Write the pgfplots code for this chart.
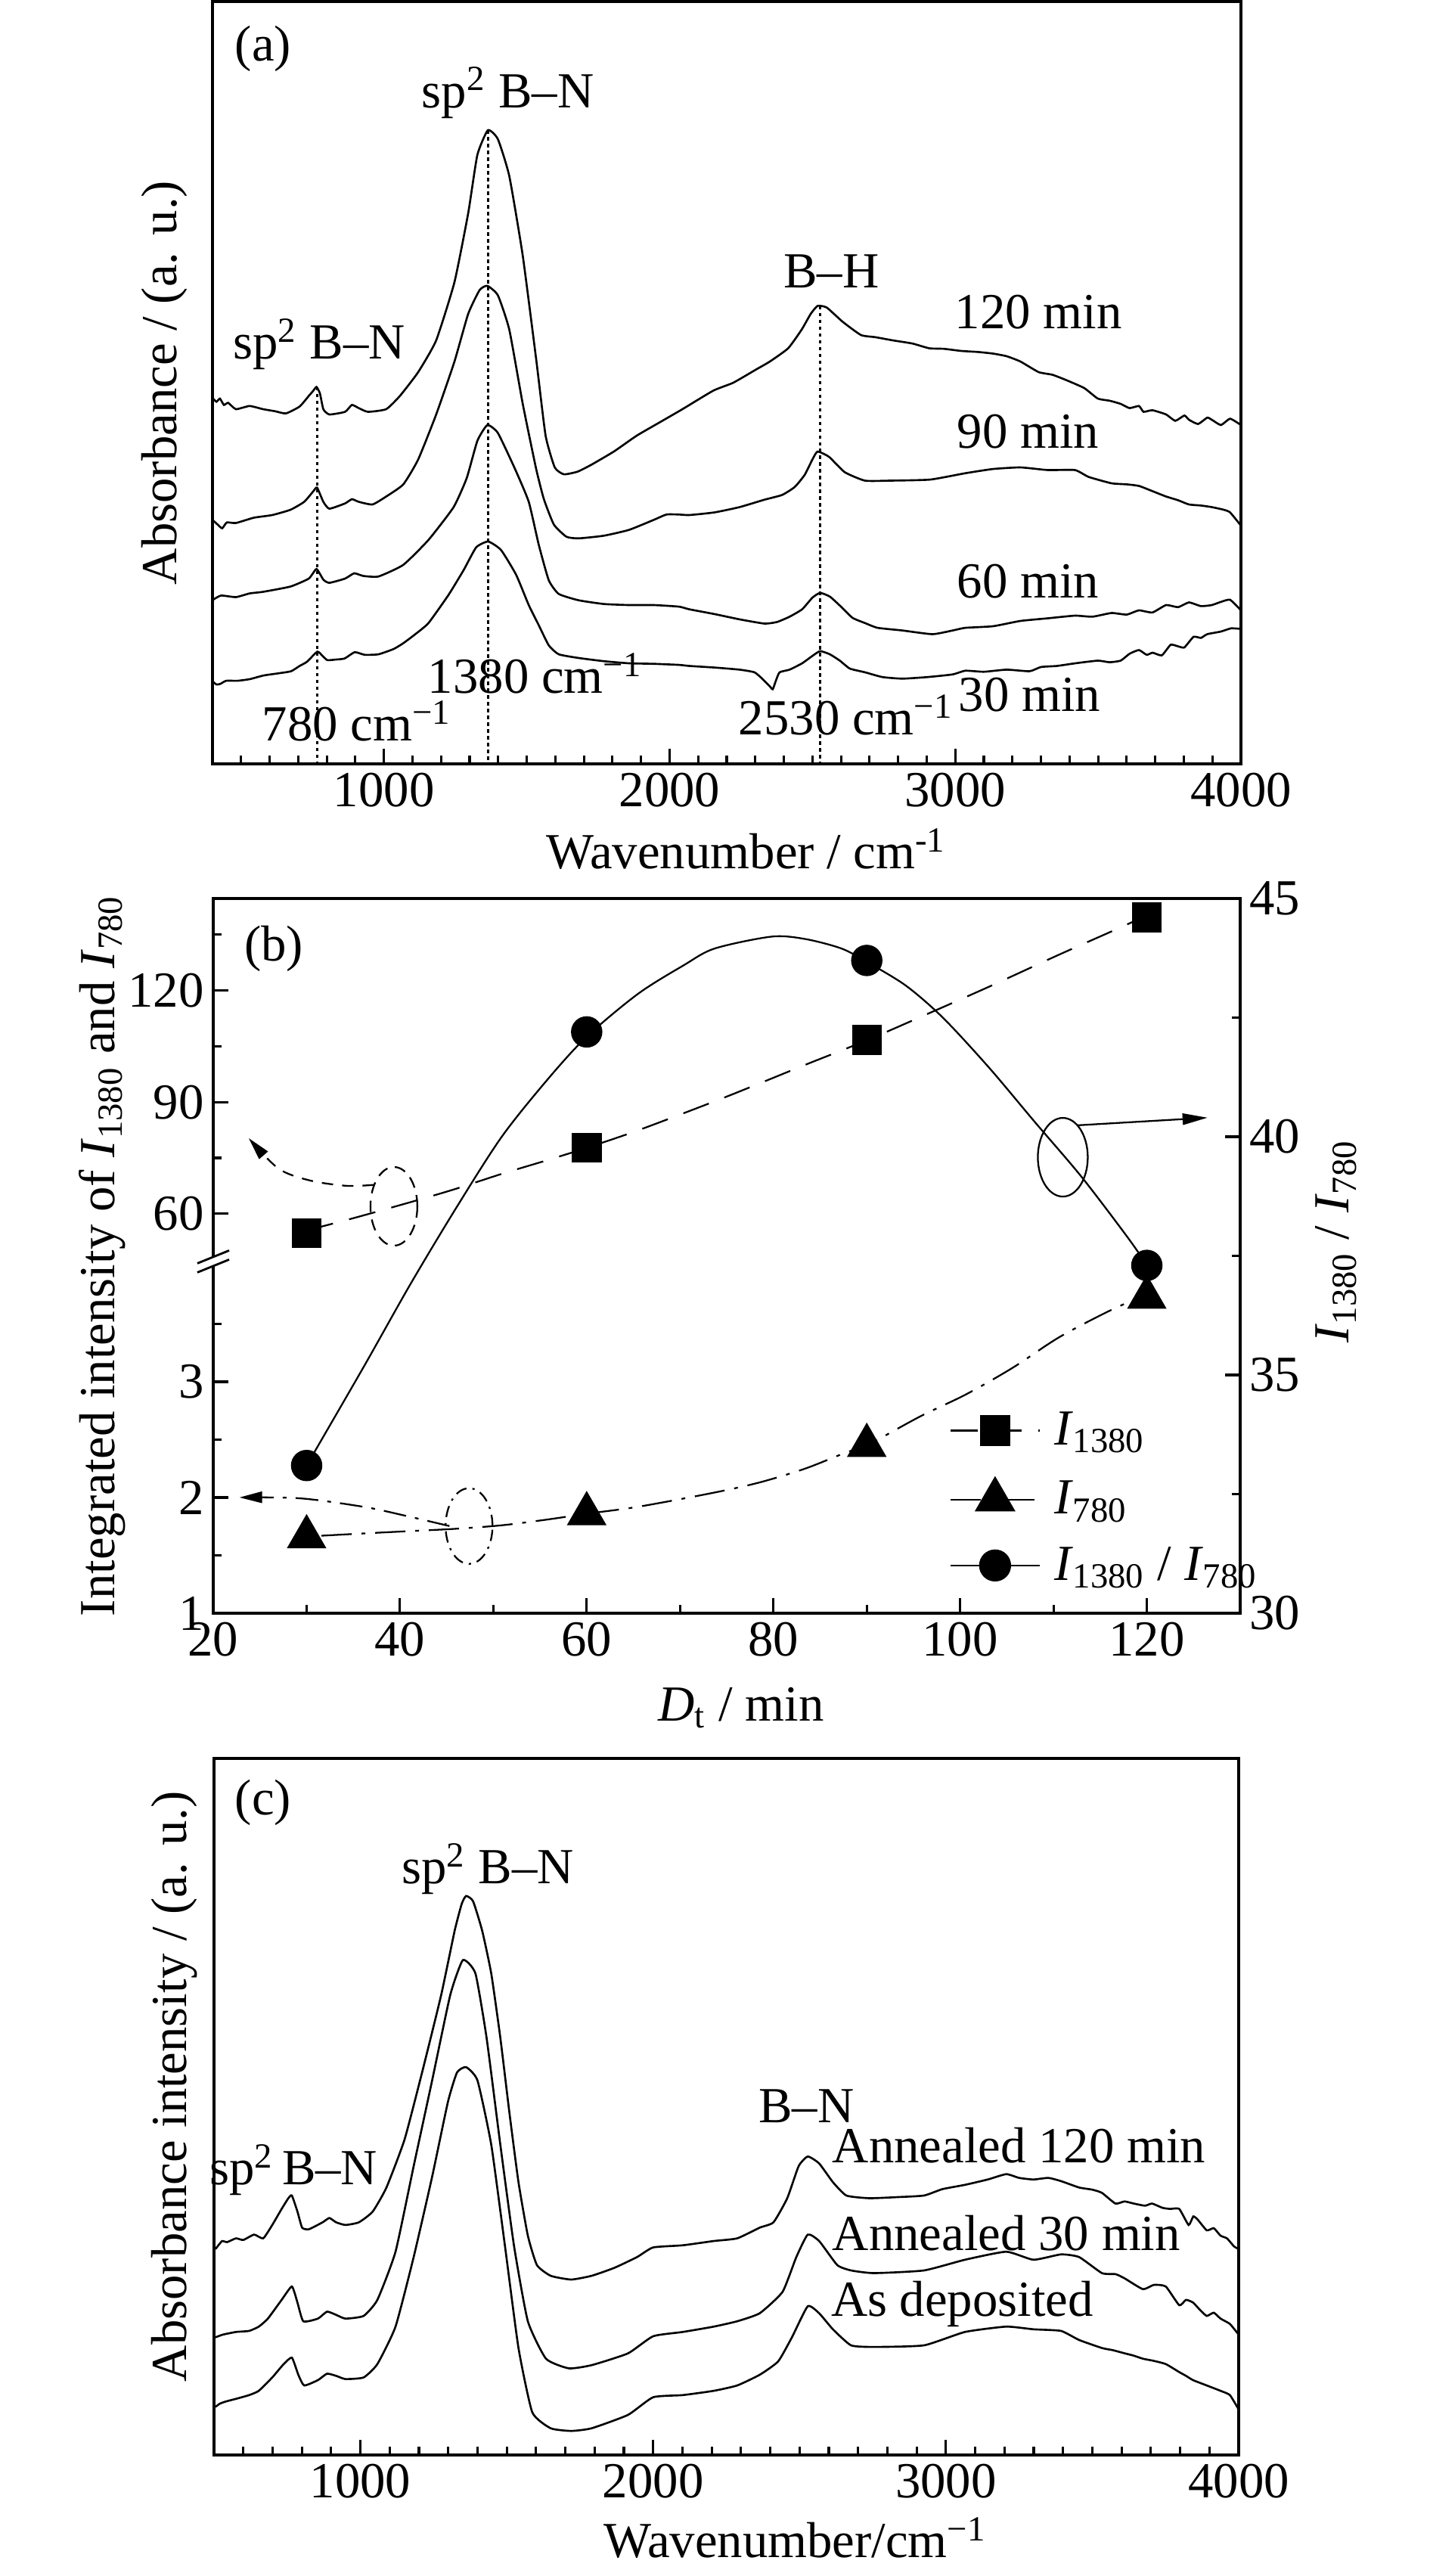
\documentclass[border=0pt]{standalone}
\usepackage{fontspec}
\setmainfont{Liberation Serif}
\usepackage{pgfplots}
\usepackage{pgfplotstable}
\pgfplotsset{compat=1.18}
\usetikzlibrary{arrows.meta}

\newcommand{\lab}{\fontsize{19}{23}\selectfont}
\newcommand{\Isub}[1]{\textit{I}\textsubscript{#1}}

% panel (b): measured points, D_t in min
\pgfplotstableread{
t    i1380  i780  ratio
30   54.8   1.66  33.1
60   77.7   1.86  42.2
90   106.7  2.45  43.7
120  139.6  3.73  37.3
}\pointsb

% fitted curves
\pgfplotstableread{
t     v
30    55.5
35.3  59.0
42.1  63.8
46.0  66.7
50.9  70.7
55.8  74.4
60    77.7
65.5  82.4
73.5  90.0
78.5  95.0
83.4  100.0
90    106.6
95.7  112.8
103.1 121.0
110.5 129.5
115.9 135.5
119   139.0
}\fitA

\pgfplotstableread{
t     v
31.6  1.67
36.2  1.69
41.1  1.71
46.0  1.73
50.9  1.76
55.8  1.81
60    1.86
65.5  1.92
73.5  2.04
78.5  2.13
83.4  2.25
87.8  2.39
90    2.45
95.7  2.70
100.6 2.89
105.6 3.12
110.5 3.38
115.4 3.59
118.9 3.72
}\fitB

\pgfplotstableread{
t     v
30    33.1
36.2  35.2
41.1  36.9
46.0  38.5
50.9  40.0
55.8  41.2
60    42.1
65.5  43.0
70.4  43.6
73.7  43.95
79.8  44.2
83.4  44.15
87.3  43.95
90    43.67
94.2  43.17
98.2  42.49
103.1 41.45
108.0 40.31
113.0 39.16
117.9 37.9
120   37.31
}\fitR

\tikzset{
  note/.style={font=\lab, inner sep=0pt},
  vline/.style={black, line width=0.8pt, dash pattern=on 0.045cm off 0.045cm},
  fitA/.style={black, line width=0.65pt, dash pattern=on 0.36cm off 0.22cm},
  fitB/.style={black, line width=0.65pt, dash pattern=on 0.4cm off 0.13cm on 0.05cm off 0.13cm},
  fitR/.style={black, line width=0.65pt},
}
\pgfplotsset{
  panel/.style={
    scale only axis, clip=false,
    axis line style={line width=0.9pt},
    tick style={line width=0.9pt, black},
    major tick length=0.2cm, minor tick length=0.11cm,
    tick align=inside,
    tick label style={font=\lab},
    label style={font=\lab},
    /pgf/number format/assume math mode=true,
    /pgf/number format/1000 sep={},
  },
  spec/.style={black, line width=0.75pt, smooth, tension=0.3, no markers},
}

\begin{document}
\begin{tikzpicture}
\useasboundingbox (0,0) rectangle (18.9,-34.06);

% ---------------- (a) ----------------
\begin{axis}[panel,
  at={(2.81cm,-0.02cm)}, anchor=north west,
  width=13.60cm, height=10.08cm,
  xmin=400, xmax=4000, ymin=0, ymax=1440,
  xtick={1000,2000,3000,4000}, minor xtick={400,500,...,4000},
  ytick=\empty, xtick pos=bottom,
  xlabel={Wavenumber / cm\textsuperscript{-1}},
  ylabel={Absorbance / (a. u.)},
  xlabel style={at={(axis description cs:0.519,-0.137)}, anchor=base},
  ylabel style={at={(axis description cs:-0.0464,0.5)}, anchor=center},
]
% 120 min
\addplot[spec] coordinates {(402,690)(414,684)(426,690)(440,678)(455,682)(482,670)(530,676)(577,670)(620,666)(657,662)(705,675)(737,695)(753,705)(764,712)(776,700)(788,670)(809,660)(864,665)(888,678)(912,672)(944,665)(1008,670)(1056,695)(1120,740)(1183,800)(1247,910)(1295,1040)(1327,1150)(1364,1197)(1399,1180)(1439,1110)(1486,960)(1534,760)(1566,620)(1598,560)(1630,547)(1678,552)(1726,565)(1805,590)(1885,620)(1965,645)(2045,670)(2153,705)(2223,720)(2303,745)(2351,760)(2415,785)(2462,820)(2494,850)(2518,865)(2550,862)(2606,835)(2670,810)(2720,806)(2781,800)(2850,794)(2909,785)(2960,784)(3021,780)(3080,778)(3132,775)(3180,770)(3228,760)(3292,740)(3340,735)(3388,725)(3451,710)(3499,690)(3540,686)(3579,680)(3610,672)(3643,676)(3659,665)(3690,668)(3738,660)(3770,648)(3802,658)(3818,650)(3850,642)(3882,654)(3898,650)(3930,640)(3962,652)(4000,640)};
% 90 min
\addplot[spec] coordinates {(402,460)(418,452)(434,445)(450,456)(482,455)(545,465)(609,470)(673,480)(721,495)(753,515)(766,522)(788,495)(809,482)(864,492)(888,500)(912,495)(960,490)(1008,505)(1068,528)(1120,575)(1183,660)(1247,760)(1295,850)(1335,895)(1362,903)(1399,885)(1439,820)(1486,680)(1533,557)(1560,500)(1595,452)(1639,429)(1682,426)(1770,431)(1858,442)(1945,461)(1989,471)(2033,471)(2069,470)(2157,475)(2245,485)(2332,499)(2394,508)(2438,523)(2473,546)(2500,575)(2518,590)(2558,580)(2613,551)(2684,535)(2771,535)(2912,537)(3035,549)(3132,557)(3228,560)(3324,555)(3419,555)(3467,542)(3547,530)(3600,528)(3643,525)(3691,515)(3738,505)(3780,498)(3818,490)(3860,488)(3898,485)(3940,480)(3962,475)(4000,450)};
% 60 min
\addplot[spec] coordinates {(402,310)(430,318)(482,315)(530,322)(577,325)(673,335)(737,350)(764,368)(788,348)(809,342)(864,350)(896,360)(928,355)(981,354)(1068,376)(1156,423)(1244,485)(1290,540)(1327,610)(1362,640)(1399,625)(1459,557)(1507,495)(1542,414)(1577,347)(1612,321)(1682,309)(1770,302)(1858,300)(1945,300)(2033,297)(2069,292)(2157,283)(2245,273)(2332,265)(2376,268)(2420,278)(2464,292)(2500,314)(2527,323)(2561,316)(2596,299)(2640,276)(2684,266)(2728,257)(2815,252)(2920,245)(2991,252)(3035,257)(3132,260)(3228,270)(3324,275)(3419,280)(3480,278)(3547,285)(3600,282)(3643,290)(3690,286)(3738,300)(3780,296)(3818,305)(3860,298)(3898,300)(3930,306)(3962,310)(4000,290)};
% 30 min
\addplot[spec] coordinates {(402,155)(414,150)(427,151)(448,157)(488,157)(530,160)(579,167)(630,171)(675,175)(705,185)(731,193)(767,212)(785,204)(802,196)(830,197)(862,199)(898,211)(933,206)(981,207)(1034,217)(1068,228)(1110,245)(1156,266)(1226,319)(1279,366)(1323,409)(1365,420)(1410,404)(1463,357)(1507,300)(1542,262)(1577,224)(1612,207)(1682,200)(1770,194)(1858,190)(1945,189)(2033,187)(2069,185)(2157,182)(2245,178)(2297,173)(2324,161)(2350,147)(2361,141)(2372,157)(2385,173)(2420,178)(2464,190)(2500,204)(2527,213)(2561,207)(2596,195)(2631,180)(2684,173)(2745,164)(2815,161)(2903,164)(2991,169)(3035,176)(3100,174)(3180,178)(3260,175)(3300,183)(3356,185)(3420,190)(3499,195)(3540,192)(3579,195)(3610,208)(3643,215)(3670,206)(3691,210)(3723,205)(3754,225)(3780,222)(3802,220)(3834,240)(3860,238)(3882,245)(3930,250)(3965,256)(4000,255)};
% peak markers
\addplot[vline] coordinates {(766,712)(766,0)};
\addplot[vline] coordinates {(1365,1197)(1365,0)};
\addplot[vline] coordinates {(2526,865)(2526,0)};
\node[note] at (axis cs:577,1351) {(a)};
\node[note, anchor=base] at (axis cs:1434,1240) {sp\textsuperscript{2} B–N};
\node[note, anchor=base] at (axis cs:774,765) {sp\textsuperscript{2} B–N};
\node[note, anchor=base] at (axis cs:2566,900) {B–H};
\node[note, anchor=base west] at (axis cs:2997,822) {120 min};
\node[note, anchor=base west] at (axis cs:3005,597) {90 min};
\node[note, anchor=base west] at (axis cs:3005,313) {60 min};
\node[note, anchor=base west] at (axis cs:3010,100) {30 min};
\node[note, anchor=base] at (axis cs:905,44) {780 cm\textsuperscript{−1}};
\node[note, anchor=base] at (axis cs:1529,133) {1380 cm\textsuperscript{−1}};
\node[note, anchor=base] at (axis cs:2617,55) {2530 cm\textsuperscript{−1}};
\end{axis}

% ---------------- (b) ----------------
% left axis is broken: lower part 1..3.5, upper part 60..135
% internal position: lower (v-1)*2.4284, upper 8.385+(v-60)*0.0781
\begin{axis}[panel,
  at={(2.82cm,-11.88cm)}, anchor=north west,
  width=13.58cm, height=9.45cm,
  xmin=20, xmax=130, ymin=0, ymax=15,
  xtick={20,40,...,120}, minor xtick={30,50,...,130},
  ytick={0,2.4284,4.8568,8.385,10.728,13.071},
  yticklabels={1,2,3,60,90,120},
  minor ytick={1.2142,3.6426,6.071,9.557,11.9,14.242},
  xtick pos=bottom, ytick pos=left,
  xlabel={\textit{D}\textsubscript{t} / min},
  ylabel={Integrated intensity of \Isub{1380} and \Isub{780}},
  xlabel style={at={(axis description cs:0.514,-0.151)}, anchor=base},
  ylabel style={at={(axis description cs:-0.1083,0.5)}, anchor=center},
]
\addplot[fitA, smooth, forget plot] table[x=t, y expr={8.385+(\thisrow{v}-60)*0.0781}] {\fitA};
\addplot[fitB, smooth, forget plot] table[x=t, y expr={(\thisrow{v}-1)*2.4284}] {\fitB};
\addplot[only marks, mark=square*, mark size=5.4pt, black, forget plot]
  table[x=t, y expr={8.385+(\thisrow{i1380}-60)*0.0781}] {\pointsb};
\addplot[only marks, mark=triangle*, mark size=8.2pt, black, forget plot]
  table[x=t, y expr={(\thisrow{i780}-1)*2.4284}] {\pointsb};
% guide ellipses and arrows
\draw[black, line width=0.65pt, dash pattern=on 0.15cm off 0.1cm] (axis cs:39.35,8.54) ellipse [x radius=0.31cm, y radius=0.52cm];
\addplot[black, line width=0.65pt, dash pattern=on 0.15cm off 0.12cm, smooth, -{Triangle[length=0.3cm,width=0.15cm]}, forget plot]
  coordinates {(37.2,8.99)(34.3,8.97)(30.4,9.08)(27.0,9.33)(23.8,9.97)};
\draw[black, line width=0.65pt, dash pattern=on 0.15cm off 0.08cm on 0.03cm off 0.08cm] (axis cs:47.4,1.83) ellipse [x radius=0.31cm, y radius=0.50cm];
\addplot[black, line width=0.65pt, dash pattern=on 0.3cm off 0.12cm on 0.05cm off 0.12cm, smooth, -{Triangle[length=0.3cm,width=0.15cm]}, forget plot]
  coordinates {(45.3,1.83)(40.5,2.05)(36.2,2.23)(29.4,2.41)(22.8,2.43)};
\draw[black, line width=0.65pt] (axis cs:111.0,9.57) ellipse [x radius=0.33cm, y radius=0.52cm];
\addplot[black, line width=0.65pt, -{Triangle[length=0.33cm,width=0.15cm]}, forget plot]
  coordinates {(112.55,10.24)(126.5,10.40)};
% axis break
\fill[white] ([xshift=-0.21cm,yshift=-0.15cm]axis description cs:0,0.4927) -- ([xshift=0.21cm,yshift=0.02cm]axis description cs:0,0.4927)
  -- ([xshift=0.21cm,yshift=0.14cm]axis description cs:0,0.4927) -- ([xshift=-0.21cm,yshift=-0.03cm]axis description cs:0,0.4927) -- cycle;
\draw[black, line width=0.8pt] ([xshift=-0.21cm,yshift=-0.15cm]axis description cs:0,0.4927) -- ([xshift=0.21cm,yshift=0.02cm]axis description cs:0,0.4927);
\draw[black, line width=0.8pt] ([xshift=-0.21cm,yshift=-0.03cm]axis description cs:0,0.4927) -- ([xshift=0.21cm,yshift=0.14cm]axis description cs:0,0.4927);
\node[note] at (axis cs:26.5,13.94) {(b)};
\end{axis}

\begin{axis}[panel,
  at={(2.82cm,-11.88cm)}, anchor=north west,
  width=13.58cm, height=9.45cm,
  xmin=20, xmax=130, ymin=30, ymax=45,
  axis x line=none, axis y line*=right,
  ytick={30,35,40,45}, minor ytick={32.5,37.5,42.5},
  ylabel={\Isub{1380} / \Isub{780}},
  ylabel style={at={(axis description cs:1.0935,0.52)}, anchor=center},
  legend style={draw=none, fill=none, font=\lab, at={(axis description cs:0.7165,0.04)},
    anchor=south west, row sep=0.38cm, inner sep=0pt, nodes={inner sep=0pt},
    /tikz/every odd column/.append style={column sep=0.18cm}, cells={anchor=west}},
  legend image code/.code={\draw[mark repeat=2, mark phase=2, #1] plot coordinates {(0cm,0cm)(0.59cm,0cm)(1.18cm,0cm)};},
]
\addlegendimage{fitA, mark=square*, mark size=5.4pt, mark options={solid}}
\addlegendentry{\Isub{1380}}
\addlegendimage{fitB, mark=triangle*, mark size=8.2pt, mark options={solid}}
\addlegendentry{\Isub{780}}
\addlegendimage{fitR, mark=*, mark size=5.7pt}
\addlegendentry{\Isub{1380} / \Isub{780}}
\addplot[fitR, smooth, forget plot] table[x=t, y=v] {\fitR};
\addplot[only marks, mark=*, mark size=5.7pt, black, forget plot] table[x=t, y=ratio] {\pointsb};
\end{axis}

% ---------------- (c) ----------------
\begin{axis}[panel,
  at={(2.83cm,-23.25cm)}, anchor=north west,
  width=13.55cm, height=9.21cm,
  xmin=500, xmax=4000, ymin=0, ymax=1302,
  xtick={1000,2000,3000,4000}, minor xtick={500,600,...,4000},
  ytick=\empty, xtick pos=bottom,
  xlabel={Wavenumber/cm\textsuperscript{−1}},
  ylabel={Absorbance intensity / (a. u.)},
  xlabel style={at={(axis description cs:0.567,-0.1466)}, anchor=base},
  ylabel style={at={(axis description cs:-0.039,0.529)}, anchor=center},
]
% annealed 120 min
\addplot[spec] coordinates {(505,385)(515,392)(528,400)(545,398)(575,405)(600,402)(637,412)(668,405)(699,430)(731,460)(754,480)(766,485)(785,455)(801,425)(824,422)(871,435)(894,443)(917,435)(949,430)(995,435)(1042,455)(1089,500)(1151,590)(1213,720)(1276,860)(1322,980)(1346,1030)(1361,1045)(1385,1035)(1416,980)(1447,900)(1478,780)(1509,640)(1540,510)(1572,410)(1603,355)(1650,335)(1720,328)(1790,335)(1868,350)(1945,370)(2000,388)(2101,392)(2207,400)(2287,405)(2364,425)(2411,435)(2458,480)(2497,540)(2528,558)(2567,545)(2614,510)(2660,485)(2738,480)(2832,482)(2925,485)(2988,497)(3065,505)(3143,515)(3206,525)(3250,518)(3299,515)(3350,518)(3393,512)(3455,500)(3500,496)(3533,490)(3579,470)(3610,474)(3642,470)(3680,466)(3704,470)(3740,462)(3766,460)(3797,460)(3829,430)(3845,446)(3860,440)(3891,420)(3915,424)(3938,410)(3960,405)(3984,390)(4000,385)};
% annealed 30 min
\addplot[spec] coordinates {(505,220)(530,225)(575,230)(620,232)(653,240)(684,255)(731,290)(766,315)(785,285)(805,250)(855,255)(886,268)(917,262)(949,255)(1011,260)(1058,290)(1120,380)(1182,540)(1245,700)(1307,860)(1350,925)(1393,900)(1431,780)(1478,580)(1525,390)(1572,250)(1634,180)(1712,162)(1790,168)(1914,190)(2000,222)(2101,230)(2207,240)(2287,250)(2364,265)(2442,305)(2489,370)(2528,412)(2567,400)(2629,355)(2676,345)(2754,340)(2925,345)(3065,365)(3206,380)(3299,365)(3393,375)(3455,370)(3533,340)(3580,338)(3611,330)(3673,310)(3710,318)(3751,315)(3797,280)(3820,290)(3844,285)(3870,270)(3891,260)(3915,266)(3938,255)(3970,245)(4000,225)};
% as deposited
\addplot[spec] coordinates {(505,90)(520,96)(540,100)(575,105)(620,112)(653,120)(699,145)(738,170)(766,182)(788,150)(808,130)(855,140)(886,152)(917,148)(949,142)(1011,145)(1058,170)(1120,240)(1182,370)(1245,520)(1299,660)(1330,715)(1361,725)(1400,700)(1447,580)(1494,390)(1540,200)(1587,80)(1650,50)(1720,45)(1790,50)(1914,75)(2000,108)(2101,112)(2207,120)(2287,130)(2364,150)(2427,175)(2474,220)(2528,278)(2567,265)(2614,235)(2676,205)(2754,202)(2925,205)(3065,230)(3206,240)(3299,235)(3393,232)(3455,215)(3533,200)(3570,196)(3611,190)(3640,186)(3673,180)(3710,176)(3751,170)(3797,155)(3820,148)(3844,140)(3891,130)(3938,120)(3970,112)(4000,85)};
\node[note] at (axis cs:668,1219) {(c)};
\node[note, anchor=base] at (axis cs:1435,1068) {sp\textsuperscript{2} B–N};
\node[note, anchor=base] at (axis cs:772,505) {sp\textsuperscript{2}\,B–N};
\node[note, anchor=base] at (axis cs:2523,622) {B–N};
\node[note, anchor=base west] at (axis cs:2611,547) {Annealed 120 min};
\node[note, anchor=base west] at (axis cs:2611,383) {Annealed 30 min};
\node[note, anchor=base west] at (axis cs:2606,260) {As deposited};
\end{axis}
\end{tikzpicture}
\end{document}
